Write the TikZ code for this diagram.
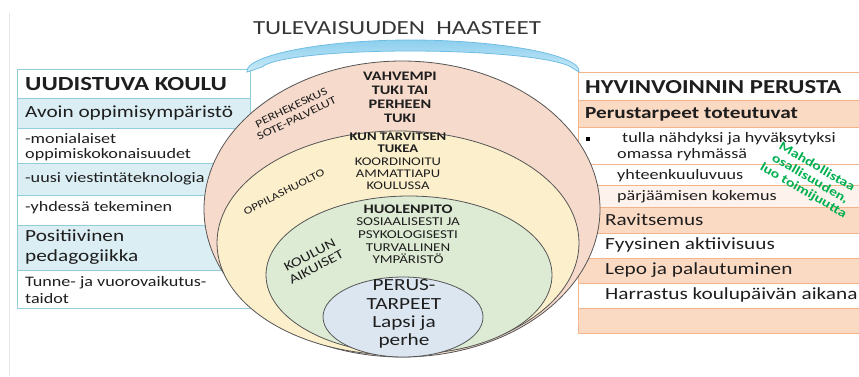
\documentclass[tikz,border=0pt]{standalone}
\usepackage{fontspec}
\setmainfont{Carlito}[FakeStretch=1.25, BoldFeatures={FakeStretch=1.25}]
\definecolor{txtc}{HTML}{1E1E1E}
\definecolor{ellline}{HTML}{555555}
\definecolor{salmE}{HTML}{F6DACB}
\definecolor{yelE}{HTML}{FCEFCB}
\definecolor{grnE}{HTML}{DEEBD4}
\definecolor{bluE}{HTML}{DCE6F1}
\definecolor{lblue}{HTML}{DBEEF4}
\definecolor{lbord}{HTML}{92CDDC}
\definecolor{rsalm}{HTML}{FBDAC4}
\definecolor{rlight}{HTML}{FEF3EC}
\definecolor{rbord}{HTML}{F4B48A}
\definecolor{arctop}{HTML}{8CCFEE}
\definecolor{arcbot}{HTML}{CBEAF8}
\definecolor{arcedge}{HTML}{6FBDE3}
\definecolor{greentxt}{HTML}{00B050}
\definecolor{pageedge}{HTML}{E4E4EA}
\newcommand{\fsz}[2]{\fontsize{#1}{#2}\selectfont}
\begin{document}
\begin{tikzpicture}[x=1pt,y=-1pt,
  ell/.style={draw=ellline, line width=0.8pt},
  lrow/.style={draw=lbord, line width=0.9pt},
  rrow/.style={draw=rbord, line width=0.9pt},
  txt/.style={inner sep=0pt, text=txtc},
  lt/.style={txt, anchor=west, align=left},
  ct/.style={txt, anchor=center, align=center},
  rot/.style={txt, anchor=center, align=center, rotate=#1}
]
\useasboundingbox (0,0) rectangle (859,376);
\clip (0,0) rectangle (859,376);
\fill[white] (0,0) rectangle (859,376);
\draw[pageedge, line width=1pt] (9,13) -- (9,376);

% left table
\draw[lrow, fill=white] (17,69) rectangle (250,98);
\draw[lrow, fill=lblue] (17,98) rectangle (250,128);
\draw[lrow, fill=white] (17,128) rectangle (250,163);
\draw[lrow, fill=lblue] (17,163) rectangle (250,195);
\draw[lrow, fill=white] (17,195) rectangle (250,225);
\draw[lrow, fill=lblue] (17,225) rectangle (250,270);
\draw[lrow, fill=white] (17,270) rectangle (280,308);

% right table
\draw[rrow, fill=white] (578,72) rectangle (875,100);
\draw[rrow, fill=rsalm] (578,100) rectangle (875,127);
\draw[rrow, fill=white] (578,127) rectangle (875,164);
\draw[rrow, fill=white] (578,164) rectangle (875,185);
\draw[rrow, fill=rlight] (578,185) rectangle (875,207);
\draw[rrow, fill=rsalm] (578,207) rectangle (875,233);
\draw[rrow, fill=white] (578,233) rectangle (875,258);
\draw[rrow, fill=rsalm] (578,258) rectangle (875,283);
\draw[rrow, fill=white] (578,283) rectangle (875,308);
\draw[rrow, fill=rsalm] (578,308) rectangle (875,333);
\draw[rbord!50, line width=0.6pt] (578,321) -- (875,321);

% arc
\draw[top color=arctop, bottom color=arcbot, draw=arcedge, line width=0.8pt]
  (247,72) .. controls (244,56) and (320,40) .. (410,40)
  .. controls (500,40) and (582,55) .. (579,72)
  -- (571,67) .. controls (556,58) and (490,51) .. (410,51)
  .. controls (330,51) and (272,58) .. (262,67) -- cycle;

% nested ellipses
\draw[ell, fill=salmE] (402,209) ellipse [x radius=198pt, y radius=148pt];
\draw[ell, fill=yelE] (398,243) ellipse [x radius=181pt, y radius=112pt];
\draw[ell, fill=grnE] (409,275) ellipse [x radius=143pt, y radius=79pt];
\draw[ell, fill=bluE] (403,317) ellipse [x radius=80pt, y radius=40pt];

% title
\node[ct, font=\fsz{20}{24}, text=txtc!90] (title) at (397,28) {TULEVAISUUDEN\ \ HAASTEET};

% left texts
\node[lt, font=\fsz{20}{24}\bfseries] (uk) at (25,84) {UUDISTUVA KOULU};
\node[lt, font=\fsz{17}{20}] (avoin) at (25,113) {Avoin oppimisympäristö};
\node[lt, font=\fsz{14.5}{15.5}] (moni) at (25,147) {-monialaiset\\oppimiskokonaisuudet};
\node[lt, font=\fsz{14.5}{16}] (uusi) at (25,179) {-uusi viestintäteknologia};
\node[lt, font=\fsz{14.5}{16}] (yhd) at (25,208) {-yhdessä tekeminen};
\node[lt, font=\fsz{17}{20}] (pos) at (25,247) {Positiivinen\\pedagogiikka};
\node[lt, font=\fsz{14.5}{16.5}] (tunne) at (25,290) {Tunne- ja vuorovaikutus-\\taidot};

% right texts
\node[lt, font=\fsz{19.8}{24}\bfseries] (hyv) at (585,87) {HYVINVOINNIN PERUSTA};
\node[lt, font=\fsz{17}{20}\bfseries] (perus) at (585,114) {Perustarpeet toteutuvat};
\node[fill=black, inner sep=0pt, minimum size=4pt] (bul) at (588,139) {};
\node[lt, font=\fsz{14.5}{16}] (tulla) at (622,139) {tulla nähdyksi ja hyväksytyksi};
\node[lt, font=\fsz{14.5}{16}] (omassa) at (617,155) {omassa ryhmässä};
\node[lt, font=\fsz{14.5}{16}] (yhteen) at (617,176) {yhteenkuuluvuus};
\node[lt, font=\fsz{14.5}{16}] (parj) at (617,197) {pärjäämisen kokemus};
\node[lt, font=\fsz{17}{20}] (rav) at (605,220) {Ravitsemus};
\node[lt, font=\fsz{17}{20}] (fyy) at (605,245) {Fyysinen aktiivisuus};
\node[lt, font=\fsz{17}{20}] (lepo) at (605,270) {Lepo ja palautuminen};
\node[lt, font=\fsz{17}{20}] (harr) at (605,295) {Harrastus koulupäivän aikana};

% green note
\node[rot=-30, font=\fsz{12.6}{13.6}\bfseries, text=greentxt] (mahd) at (810,179) {Mahdollistaa\\osallisuuden,\\luo toimijuutta};

% centre texts
\node[ct, font=\fsz{13}{14}\bfseries] (vahv) at (400,97) {VAHVEMPI\\TUKI TAI\\PERHEEN\\TUKI};
\node[ct, font=\fsz{11.7}{12.3}\bfseries] (kun) at (398,143) {KUN TARVITSEN\\TUKEA};
\node[ct, font=\fsz{11.7}{12}] (koord) at (398,174) {KOORDINOITU\\AMMATTIAPU\\KOULUSSA};
\node[ct, font=\fsz{13}{14}\bfseries] (huol) at (408,209) {HUOLENPITO};
\node[ct, font=\fsz{12}{12.7}] (sos) at (408,241) {SOSIAALISESTI JA\\PSYKOLOGISESTI\\TURVALLINEN\\YMPÄRISTÖ};
\node[ct, font=\fsz{17}{18.3}] (lapsi) at (404,314) {PERUS-\\TARPEET\\Lapsi ja\\perhe};

% rotated ring labels
\node[rot=26, font=\fsz{11}{12}] (perhe) at (294,113) {PERHEKESKUS\\SOTE-PALVELUT};
\node[rot=27, font=\fsz{10.5}{12}] (oppi) at (284,192) {OPPILASHUOLTO};
\node[rot=28, font=\fsz{13}{14}] (koulun) at (313,261) {KOULUN\\AIKUISET};
\end{tikzpicture}
\end{document}
